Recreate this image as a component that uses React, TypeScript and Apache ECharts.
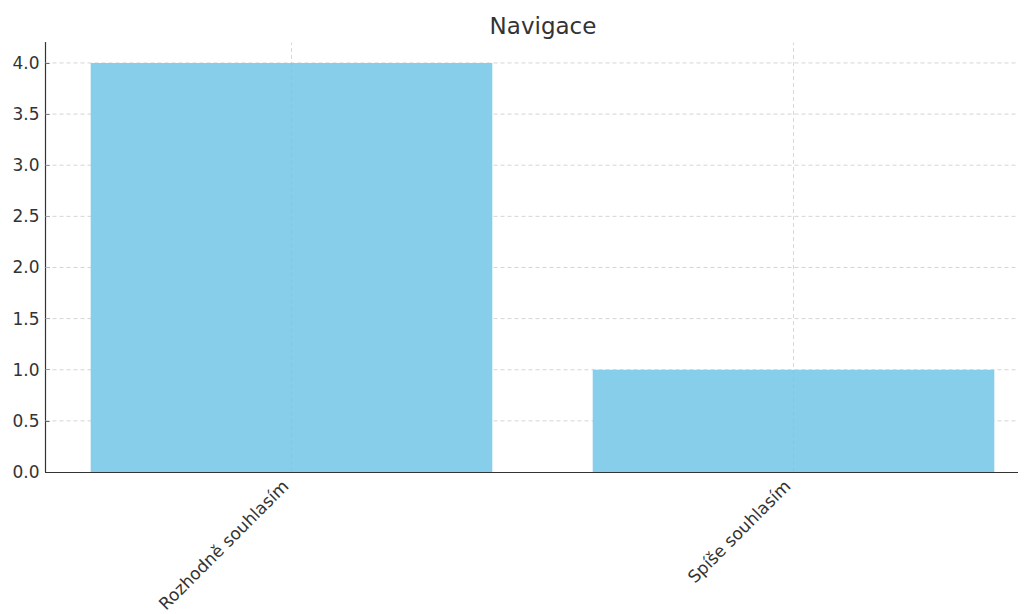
import React, { useEffect, useRef } from "react";
import * as echarts from "echarts";

const title = "Navigace";
const categories = ["Rozhodně souhlasím", "Spíše souhlasím"];
const counts = [4, 1];
const yTicks = [0, 0.5, 1.0, 1.5, 2.0, 2.5, 3.0, 3.5, 4.0];
const yMax = 4.2;
const xMin = -0.49;
const xMax = 1.49;

const VIEW_W = 1026;
const W = 1040;
const H = 614;
const gridLeft = 45.5;
const gridRight = 0.5;
const gridTop = 42.5;
const gridBottom = 142;

const font = "DejaVu Sans";
const textColor = "#333333";
const gridColor = "#d0d0d0";
const tickFontSize = 17;

export default function App() {
  const ref = useRef<HTMLDivElement>(null);

  useEffect(() => {
    if (!ref.current) return;
    const chart = echarts.init(ref.current, undefined, { renderer: "svg" });
    const plotWidth = W - gridLeft - gridRight;
    const barWidth = (plotWidth / (xMax - xMin)) * 0.8;
    const xIdx = categories.map((_, i) => i);
    const titleCenter = gridLeft + plotWidth / 2 - 4.5;

    chart.setOption({
      animation: false,
      backgroundColor: "#ffffff",
      title: {
        text: title,
        left: titleCenter,
        textAlign: "center",
        top: 9,
        textStyle: { fontFamily: font, fontSize: 23, fontWeight: "normal", color: textColor },
      },
      grid: {
        left: gridLeft,
        right: gridRight,
        top: gridTop,
        bottom: gridBottom,
        containLabel: false,
        outerBoundsMode: "none",
      },
      xAxis: {
        type: "value",
        min: xMin,
        max: xMax,
        axisLine: { show: true, onZero: false, lineStyle: { color: textColor, width: 1.2 } },
        axisTick: { show: true, inside: true, length: 4, customValues: xIdx, lineStyle: { color: textColor } },
        axisLabel: {
          customValues: xIdx,
          rotate: 45,
          margin: 17,
          verticalAlign: "bottom",
          align: "right",
          fontFamily: font,
          fontSize: tickFontSize,
          color: textColor,
          formatter: (v: number) => categories[Math.round(v)] ?? "",
        },
        splitLine: { show: false },
      },
      yAxis: {
        type: "value",
        min: 0,
        max: yMax,
        interval: 0.5,
        axisLine: { show: true, onZero: false, lineStyle: { color: textColor, width: 1.2 } },
        axisTick: { show: true, inside: true, length: 4, customValues: yTicks, lineStyle: { color: textColor } },
        axisLabel: {
          customValues: yTicks,
          margin: 6,
          fontFamily: font,
          fontSize: tickFontSize,
          color: textColor,
          formatter: (v: number) => v.toFixed(1),
        },
        splitLine: { show: false },
      },
      series: [
        {
          // horizontal grid lines, beneath the bars
          type: "custom",
          z: 1,
          silent: true,
          data: yTicks.filter((t) => t > 0),
          renderItem: (params: any, api: any) => {
            const v = api.value(0);
            const a = api.coord([xMin, v]);
            const b = api.coord([xMax, v]);
            return {
              type: "line",
              shape: { x1: a[0], y1: a[1], x2: b[0], y2: b[1] },
              style: { stroke: gridColor, lineWidth: 0.9, lineDash: [4, 3] },
            };
          },
          encode: { y: 0 },
        },
        {
          type: "bar",
          z: 2,
          barWidth,
          itemStyle: { color: "#87ceeb" },
          data: counts.map((c, i) => [i, c]),
        },
        {
          // vertical grid lines at each category, drawn over the bars
          type: "custom",
          z: 3,
          silent: true,
          data: xIdx,
          renderItem: (params: any, api: any) => {
            const v = api.value(0);
            const a = api.coord([v, 0]);
            const b = api.coord([v, yMax]);
            return {
              type: "line",
              shape: { x1: a[0], y1: a[1], x2: b[0], y2: b[1] },
              style: { stroke: "#b0b0b0", opacity: 0.55, lineWidth: 0.9, lineDash: [4, 3] },
            };
          },
          encode: { x: 0 },
        },
      ],
    });
    return () => chart.dispose();
  }, []);

  return (
    <div style={{ width: VIEW_W, height: H, overflow: "hidden", marginLeft: -8, marginTop: -8 }}>
      <div ref={ref} style={{ width: W, height: H }} />
    </div>
  );
}
